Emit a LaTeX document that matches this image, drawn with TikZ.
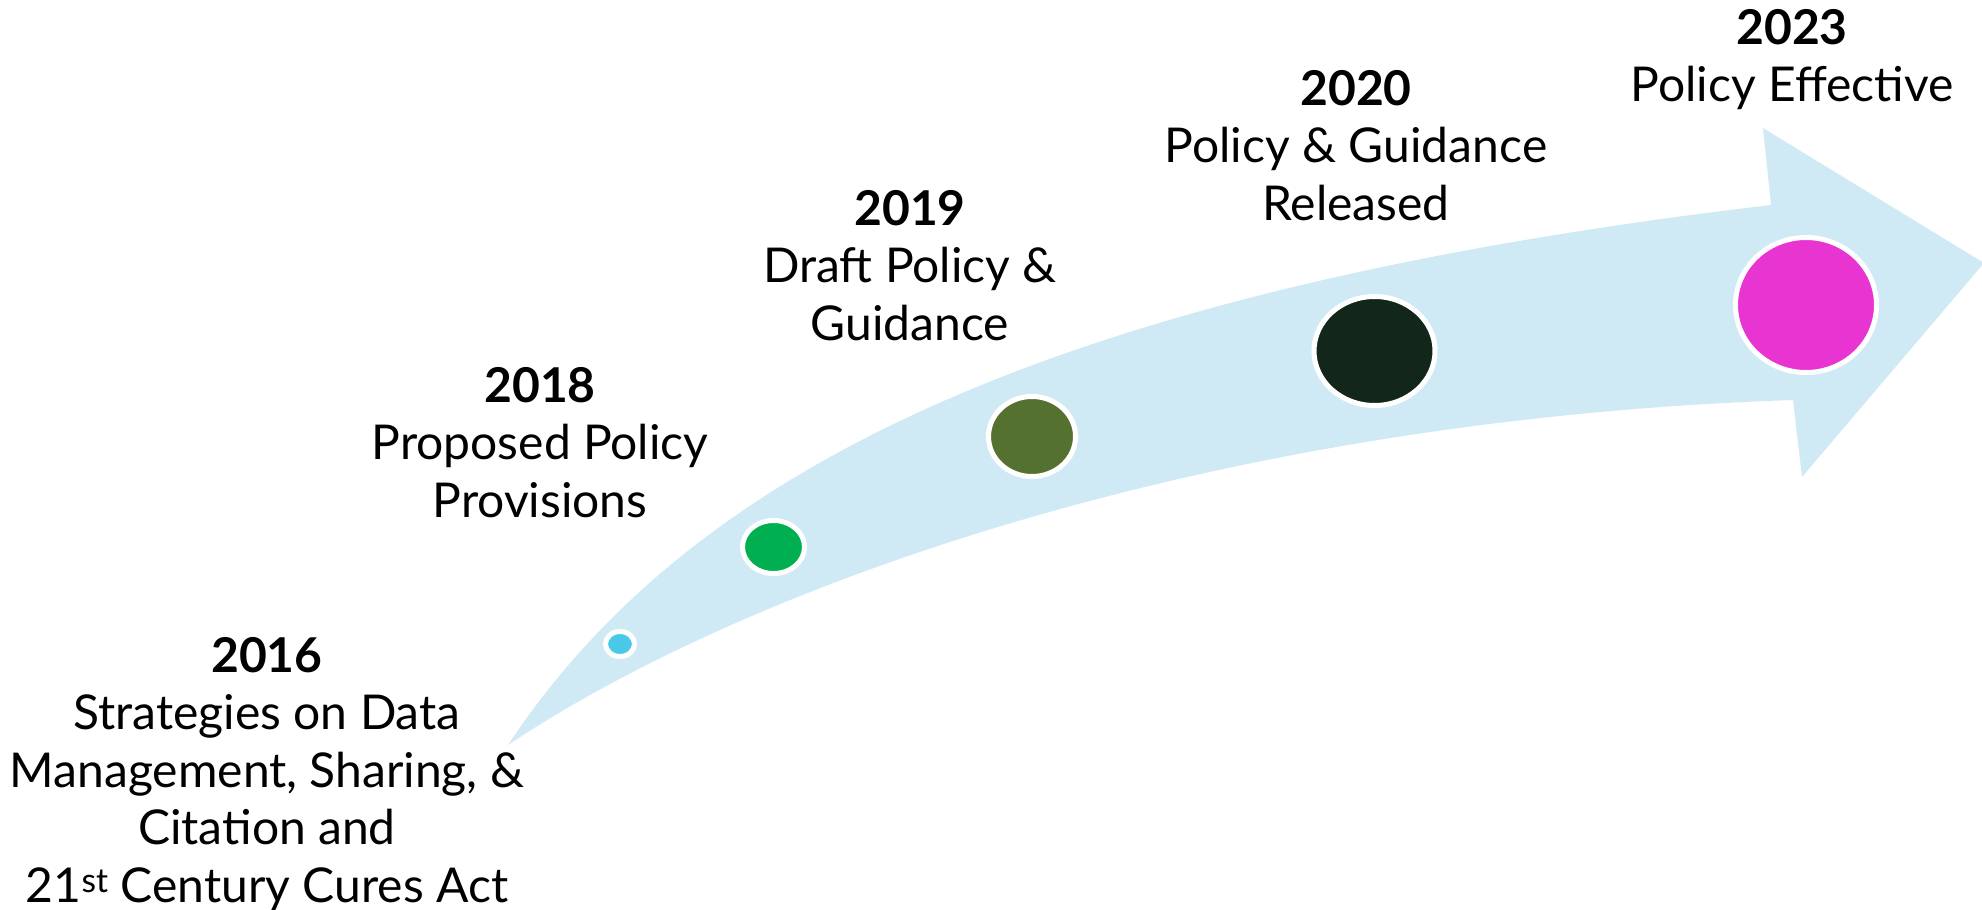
\documentclass[tikz,border=0pt]{standalone}
\usepackage{fontspec}
\setmainfont{Lato}
\usetikzlibrary{shapes.geometric}
\definecolor{arrowblue}{HTML}{D0EAF5}
\definecolor{c2016}{HTML}{48C9E8}
\definecolor{c2018}{HTML}{00B050}
\definecolor{c2019}{HTML}{557130}
\definecolor{c2020}{HTML}{13261A}
\definecolor{c2023}{HTML}{E834D0}
\tikzset{
  dot/.style={ellipse, draw=white, line width=5pt, inner sep=0pt},
  label/.style={anchor=base, inner sep=0pt, font=\fontsize{48}{57.5}\selectfont},
}
\newcommand{\yr}[1]{{\bfseries #1}}
\begin{document}
\begin{tikzpicture}[x=1pt,y=-1pt]
\useasboundingbox (0,0) rectangle (1982,910);
% curved arrow
\fill[arrowblue] (508,745) .. controls (690,470) and (1050,290) .. (1771,205)
  -- (1763,128) -- (1984,263) -- (1802,477) -- (1793,400)
  .. controls (1200,420) and (740,590) .. (508,745) -- cycle;
% milestone dots
\node[dot, fill=c2016, minimum width=29pt, minimum height=25pt] (d2016) at (620,644) {};
\node[dot, fill=c2018, minimum width=62pt, minimum height=53pt] (d2018) at (773.5,547) {};
\node[dot, fill=c2019, minimum width=87pt, minimum height=80pt] (d2019) at (1032,436.5) {};
\node[dot, fill=c2020, minimum width=121pt, minimum height=109pt] (d2020) at (1374.5,351) {};
\node[dot, fill=c2023, minimum width=141pt, minimum height=135pt] (d2023) at (1806,305) {};
% labels
\node[label] (t2016) at (267,672) {\begin{tabular}[t]{@{}c@{}}\yr{2016}\\Strategies on Data\\Management, Sharing, \&\\Citation and\\21\textsuperscript{st} Century Cures Act\end{tabular}};
\node[label] (t2018) at (540,402) {\begin{tabular}[t]{@{}c@{}}\yr{2018}\\Proposed Policy\\Provisions\end{tabular}};
\node[label] (t2019) at (910,225) {\begin{tabular}[t]{@{}c@{}}\yr{2019}\\Draft Policy \&\\Guidance\end{tabular}};
\node[label] (t2020) at (1356,105) {\begin{tabular}[t]{@{}c@{}}\yr{2020}\\Policy \& Guidance\\Released\end{tabular}};
\node[label] (t2023) at (1792,44) {\begin{tabular}[t]{@{}c@{}}\yr{2023}\\Policy Effective\end{tabular}};
\end{tikzpicture}
\end{document}
